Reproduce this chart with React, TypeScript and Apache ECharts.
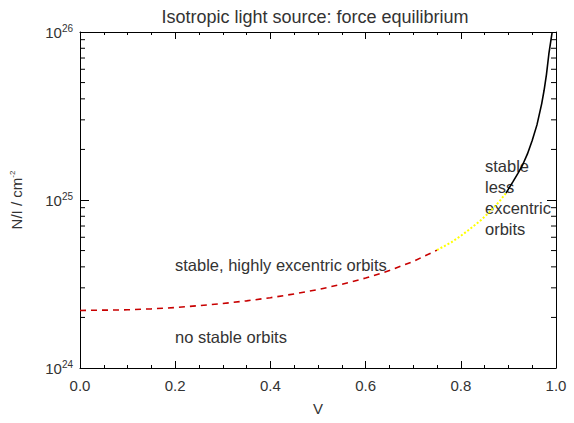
import React, { useEffect, useRef } from "react";
import * as echarts from "echarts";

const redV = [0, 0.05, 0.1, 0.15, 0.2, 0.25, 0.3, 0.35, 0.4, 0.45, 0.5, 0.55, 0.6, 0.65, 0.7, 0.75];
const redN = [2.2e24, 2.21e24, 2.22e24, 2.25e24, 2.29e24, 2.35e24, 2.42e24, 2.51e24, 2.62e24, 2.76e24, 2.93e24, 3.15e24, 3.43e24, 3.8e24, 4.31e24, 5.03e24];
const yellowV = [0.75, 0.78, 0.8, 0.82, 0.84, 0.86, 0.88, 0.895];
const yellowN = [5.03e24, 5.6e24, 6.11e24, 6.75e24, 7.48e24, 8.45e24, 9.73e24, 1.1e25];
const blackV = [0.895, 0.91, 0.92, 0.93, 0.94, 0.95, 0.96, 0.97, 0.975, 0.98, 0.985, 0.99, 0.992];
const blackN = [1.1e25, 1.29e25, 1.44e25, 1.62e25, 1.88e25, 2.26e25, 2.8e25, 3.75e25, 4.5e25, 5.6e25, 7.4e25, 9.2e25, 1.0e26];
const yMinorTicks = [2e24, 3e24, 4e24, 5e24, 6e24, 7e24, 8e24, 9e24, 2e25, 3e25, 4e25, 5e25, 6e25, 7e25, 8e25, 9e25];

const title = "Isotropic light source: force equilibrium";
const xName = "V";
const labels = [
  { text: "stable, highly excentric orbits", x: 175, y: 254 },
  { text: "no stable orbits", x: 175, y: 326 },
  { text: "stable\nless\nexcentric\norbits", x: 485, y: 155 },
];

const FONT = "Liberation Sans";
const TXT = "#333";

function zip(a: number[], b: number[]) {
  return a.map((v, i) => [v, b[i]]);
}

export default function App() {
  const ref = useRef<HTMLDivElement>(null);
  useEffect(() => {
    const chart = echarts.init(ref.current!, null, { renderer: "svg" });
    const supFmt = (v: number) => {
      const e = Math.round(Math.log10(v));
      return `{b|10}{s|${e}}`;
    };
    const rich = {
      b: { fontSize: 15, fontFamily: FONT, color: TXT },
      s: { fontSize: 10, fontFamily: FONT, color: TXT, verticalAlign: "bottom", padding: [0, 0, 8, 0] },
    };
    const xBase = {
      type: "value",
      min: 0,
      max: 1,
      interval: 0.2,
      axisLine: { show: true, onZero: false, lineStyle: { color: "#000", width: 1 } },
      axisTick: { show: true, inside: true, length: 7, lineStyle: { color: "#000" } },
      minorTick: { show: true, splitNumber: 4, length: 3, lineStyle: { color: "#000" } },
      splitLine: { show: false },
    };
    const yBase = {
      type: "log",
      logBase: 10,
      min: 1e24,
      max: 1e26,
      axisLine: { show: true, onZero: false, lineStyle: { color: "#000", width: 1 } },
      axisTick: { show: true, inside: true, length: 9, lineStyle: { color: "#000" } },
      splitLine: { show: false },
    };
    chart.setOption({
      animation: false,
      backgroundColor: "#fff",
      title: {
        text: title,
        left: 310,
        textAlign: "center",
        top: 3,
        textStyle: { fontSize: 18, fontWeight: "normal", fontFamily: FONT, color: TXT },
      },
      grid: { left: 80, right: 18, top: 32, bottom: 55 },
      xAxis: [
        {
          ...xBase,
          position: "bottom",
          name: xName,
          nameLocation: "middle",
          nameGap: 33,
          nameTextStyle: { fontSize: 15, fontFamily: FONT, color: TXT },
          axisLabel: {
            margin: 10,
            fontSize: 15,
            fontFamily: FONT,
            color: TXT,
            formatter: (v: number) => v.toFixed(1),
          },
        },
        { ...xBase, position: "top", axisLabel: { show: false } },
      ],
      yAxis: [
        {
          ...yBase,
          position: "left",
          name: "{n|N/I / cm}{s|-2}",
          nameLocation: "middle",
          nameGap: 55,
          nameRotate: 90,
          nameTextStyle: {
            fontSize: 15,
            fontFamily: FONT,
            color: TXT,
            rich: {
              n: { fontSize: 15, fontFamily: FONT, color: TXT },
              s: { fontSize: 8, fontFamily: FONT, color: TXT, verticalAlign: "bottom", padding: [0, 0, 9, 0] },
            },
          },
          axisLabel: { margin: 7, fontSize: 15, fontFamily: FONT, color: TXT, formatter: supFmt, rich },
        },
        { ...yBase, position: "right", axisLabel: { show: false } },
      ],
      graphic: labels.map((l) => ({
        type: "text",
        left: l.x,
        top: l.y,
        style: { text: l.text, fontSize: 16.5, fontFamily: FONT, fill: TXT, lineHeight: 21 },
      })),
      series: [
        {
          type: "line",
          data: zip(redV, redN),
          showSymbol: false,
          symbol: "none",
          lineStyle: { color: "#c80000", width: 1.6, type: [6, 5] },
        },
        {
          type: "line",
          data: zip(yellowV, yellowN),
          showSymbol: false,
          symbol: "none",
          lineStyle: { color: "#ffff00", width: 2, type: [2, 2] },
        },
        {
          type: "line",
          data: zip(blackV, blackN),
          showSymbol: false,
          symbol: "none",
          lineStyle: { color: "#000", width: 1.6 },
        },
        {
          type: "custom",
          clip: false,
          silent: true,
          data: yMinorTicks.map((v) => [0, v]),
          renderItem: (params: any, api: any) => {
            const v = api.value(1);
            const l = api.coord([0, v]);
            const r = api.coord([1, v]);
            return {
              type: "group",
              children: [
                { type: "line", shape: { x1: l[0], y1: l[1], x2: l[0] + 5, y2: l[1] }, style: { stroke: "#000", lineWidth: 1 } },
                { type: "line", shape: { x1: r[0] - 5, y1: r[1], x2: r[0], y2: r[1] }, style: { stroke: "#000", lineWidth: 1 } },
              ],
            };
          },
        },
      ],
    });
    return () => chart.dispose();
  }, []);
  return <div ref={ref} style={{ width: 574, height: 423, position: "absolute", left: 0, top: 0 }} />;
}
